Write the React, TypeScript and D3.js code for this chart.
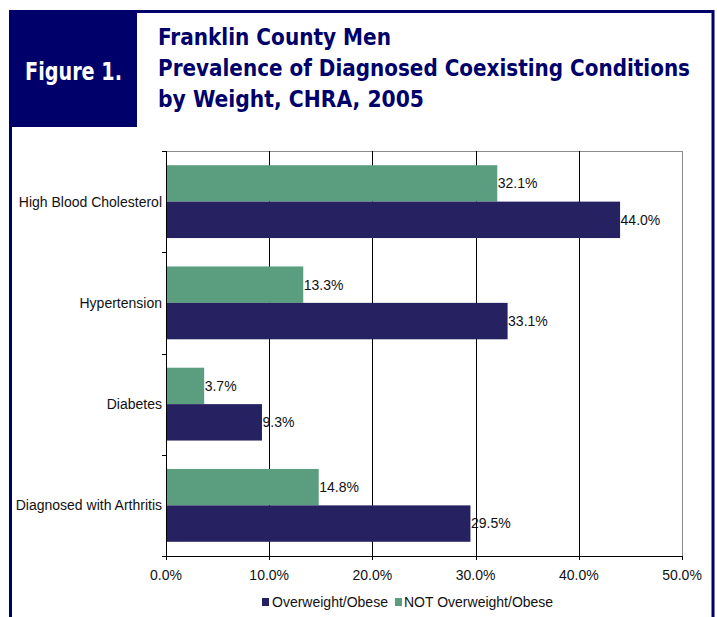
import React from "react";
import * as d3 from "d3";

const categories = ["High Blood Cholesterol", "Hypertension", "Diabetes", "Diagnosed with Arthritis"];
const seriesNames = ["NOT Overweight/Obese", "Overweight/Obese"];
const notOverweight = [32.1, 13.3, 3.7, 14.8];
const overweight = [44.0, 33.1, 9.3, 29.5];
const xTicks = [0, 10, 20, 30, 40, 50];
const titleLines = ["Franklin County Men", "Prevalence of Diagnosed Coexisting Conditions", "by Weight, CHRA, 2005"];
const titleWidths = [233, 532, 266];
const figureLabel = "Figure 1.";

const NAVY = "#262261";
const GREEN = "#5b9e7f";
const FRAME = "#00006b";

export default function App() {
  const W = 717, H = 617;
  const x = d3.scaleLinear().domain([0, 50]).range([166, 682]);
  const y = d3.scaleBand<string>().domain(categories).range([151, 556]).paddingInner(0).paddingOuter(0);
  const sub = d3.scaleBand<string>().domain(seriesNames).range([0, y.bandwidth()]).paddingInner(0).paddingOuter(0.39);
  const values: Record<string, number[]> = { [seriesNames[0]]: notOverweight, [seriesNames[1]]: overweight };
  const colors: Record<string, string> = { [seriesNames[0]]: GREEN, [seriesNames[1]]: NAVY };
  const font = "'Liberation Sans', Arial, sans-serif";
  const titleFont = "'Liberation Sans Narrow', 'DejaVu Sans Condensed', 'Roboto Condensed', 'Liberation Sans', sans-serif";
  const boundaries = [...categories.map((c) => y(c)!), 556];
  const [x0, x1] = x.range();
  const yTop = 151, yBot = 556;

  return (
    <svg width={W} height={H} style={{ position: "absolute", left: 0, top: 0, background: "#fff" }} fontFamily={font}>
      {/* frame */}
      <path d={`M10.5,${H + 5} V11.5 H713 V${H + 5}`} fill="none" stroke={FRAME} strokeWidth={3} />
      <rect x={9} y={10} width={128} height={117} fill={FRAME} />
      <text x={25} y={80} fill="#fff" fontFamily={titleFont} fontWeight="bold" fontSize={24} fontStretch="condensed" textLength={97} lengthAdjust="spacingAndGlyphs">{figureLabel}</text>
      {titleLines.map((t, i) => (
        <text key={i} x={158} y={45 + i * 31} fill={FRAME} fontFamily={titleFont} fontWeight="bold" fontSize={23} fontStretch="condensed" textLength={titleWidths[i]} lengthAdjust="spacingAndGlyphs">{t}</text>
      ))}

      {/* plot border top/right */}
      <line x1={x0} x2={x1} y1={yTop + 0.5} y2={yTop + 0.5} stroke="#8c8c8c" />
      <line x1={x1 + 0.5} x2={x1 + 0.5} y1={yTop} y2={yBot} stroke="#8c8c8c" />
      {/* gridlines */}
      {xTicks.slice(1, -1).map((t) => (
        <line key={t} x1={Math.round(x(t)) + 0.5} x2={Math.round(x(t)) + 0.5} y1={yTop} y2={yBot} stroke="#000" />
      ))}

      {/* bars */}
      {categories.map((c, i) => (
        <g key={c}>
          {seriesNames.map((s) => {
            const v = values[s][i];
            const by = y(c)! + sub(s)!;
            return (
              <g key={s}>
                <rect x={x(0)} y={by} width={x(v) - x(0)} height={sub.bandwidth()} fill={colors[s]} />
                <text x={x(v) + 0.5} y={by + sub.bandwidth() / 2} dy="0.35em" fontSize={14} fill="#111">{v.toFixed(1)}%</text>
              </g>
            );
          })}
        </g>
      ))}

      {/* axes */}
      <line x1={x0 + 0.5} x2={x0 + 0.5} y1={yTop} y2={yBot} stroke="#000" />
      <line x1={x0} x2={x1 + 1} y1={yBot + 0.5} y2={yBot + 0.5} stroke="#000" />
      {boundaries.map((b, i) => (
        <line key={i} x1={x0 - 4} x2={x0} y1={Math.round(b) + 0.5} y2={Math.round(b) + 0.5} stroke="#000" />
      ))}
      {xTicks.map((t) => (
        <g key={t}>
          <line x1={Math.round(x(t)) + 0.5} x2={Math.round(x(t)) + 0.5} y1={yBot} y2={yBot + 4} stroke="#000" />
          <text x={x(t)} y={yBot + 24} textAnchor="middle" fontSize={14} fill="#111">{t.toFixed(1)}%</text>
        </g>
      ))}
      {categories.map((c) => (
        <text key={c} x={162} y={y(c)! + y.bandwidth() / 2} dy="0.35em" textAnchor="end" fontSize={14} fill="#111">{c}</text>
      ))}

      {/* legend */}
      <rect x={262} y={598} width={7} height={8} fill={NAVY} />
      <text x={272} y={607} fontSize={14} fill="#111">{seriesNames[1]}</text>
      <rect x={395} y={598} width={7} height={8} fill={GREEN} />
      <text x={404} y={607} fontSize={14} fill="#111">{seriesNames[0]}</text>
    </svg>
  );
}
